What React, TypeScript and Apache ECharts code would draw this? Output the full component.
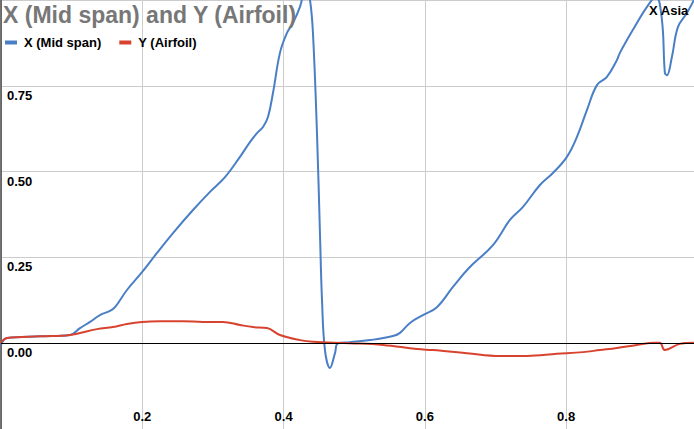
import React, { useEffect, useRef } from "react";
import * as echarts from "echarts";

const seriesNames = ["X (Mid span)", "Y (Airfoil)"];

const blueX = [0, 0.0085, 0.0552, 0.0977, 0.1118, 0.126, 0.1401, 0.1543, 0.1614, 0.1783, 0.1996, 0.2208, 0.2435, 0.2718, 0.2958, 0.3171, 0.3383, 0.3524, 0.3624, 0.3709, 0.3779, 0.385, 0.3949, 0.4048, 0.4133, 0.4232, 0.4317, 0.4374, 0.4416, 0.4473, 0.4515, 0.4544, 0.4586, 0.4657, 0.4728, 0.477, 0.494, 0.5223, 0.5549, 0.5648, 0.5789, 0.5973, 0.6171, 0.6398, 0.6624, 0.6964, 0.7204, 0.7389, 0.7629, 0.7813, 0.8011, 0.8153, 0.8294, 0.8436, 0.8577, 0.8719, 0.8761, 0.8945, 0.9144, 0.9271, 0.9356, 0.9398, 0.9427, 0.9497, 0.9582, 0.971, 0.9809];
const blueY = [-0.005, 0.015, 0.02, 0.024, 0.044, 0.062, 0.082, 0.094, 0.105, 0.155, 0.207, 0.263, 0.321, 0.388, 0.441, 0.484, 0.543, 0.586, 0.612, 0.63, 0.659, 0.729, 0.846, 0.904, 0.933, 0.98, 1.04, 1.0, 0.904, 0.612, 0.321, 0.126, -0.02, -0.072, -0.029, 0.0, 0.003, 0.009, 0.021, 0.03, 0.059, 0.082, 0.105, 0.164, 0.219, 0.286, 0.359, 0.397, 0.461, 0.496, 0.543, 0.601, 0.679, 0.752, 0.776, 0.825, 0.846, 0.913, 0.98, 1.01, 0.942, 0.787, 0.781, 0.834, 0.921, 0.962, 1.0];

const redX = [0, 0.0085, 0.0552, 0.0977, 0.1359, 0.1585, 0.1783, 0.1996, 0.2251, 0.2576, 0.2859, 0.3142, 0.3383, 0.3567, 0.3765, 0.3949, 0.4232, 0.4416, 0.494, 0.5407, 0.5888, 0.6115, 0.6596, 0.7063, 0.7445, 0.787, 0.8238, 0.8478, 0.8719, 0.9002, 0.9257, 0.9327, 0.9398, 0.9611, 0.9809];
const redY = [0.001, 0.015, 0.02, 0.024, 0.041, 0.047, 0.056, 0.062, 0.064, 0.064, 0.062, 0.062, 0.053, 0.047, 0.044, 0.024, 0.009, 0.004, 0.0, -0.005, -0.017, -0.02, -0.029, -0.037, -0.037, -0.031, -0.026, -0.02, -0.014, -0.005, 0.001, 0.001, -0.02, -0.002, 0.001];

const FONT = "'Liberation Sans', Arial, sans-serif";

export default function App() {
  const ref = useRef<HTMLDivElement>(null);
  useEffect(() => {
    if (!ref.current) return;
    const chart = echarts.init(ref.current, null, { renderer: "svg" });
    const blueData = blueX.map((x, i) => [x, blueY[i]]);
    const redData = redX.map((x, i) => [x, redY[i]]);
    chart.setOption({
      animation: false,
      backgroundColor: "#fff",
      title: {
        text: "X (Mid span) and Y (Airfoil)",
        left: 3,
        top: 3,
        padding: 0,
        textStyle: { fontFamily: FONT, fontSize: 23, fontWeight: "bold", color: "#777" },
      },
      legend: {
        left: 5,
        top: 36,
        padding: 0,
        icon: "rect",
        itemWidth: 12,
        itemHeight: 4,
        itemGap: 18,
        textStyle: { fontFamily: FONT, fontSize: 13, fontWeight: "bold", color: "#000", padding: [0, 0, 0, 2] },
        data: seriesNames,
      },
      graphic: [
        {
          type: "text",
          left: 649,
          top: 4,
          z: 100,
          style: { text: "X Asia", font: `bold 13px ${FONT}`, fill: "#000" },
        },
      ],
      grid: { left: 1, right: 0, top: 0, bottom: 0, containLabel: false, outerBoundsMode: "none" },
      xAxis: {
        type: "value",
        min: 0,
        max: 0.981,
        interval: 0.2,
        axisLine: { show: false },
        axisTick: { show: false },
        splitLine: { show: true, lineStyle: { color: "#ccc", width: 1 } },
        axisLabel: {
          inside: true,
          margin: 6,
          fontFamily: FONT,
          fontSize: 13,
          fontWeight: "bold",
          color: "#000",
          formatter: (v: number) => (v === 0 || v > 0.9 ? "" : v.toFixed(1)),
        },
      },
      yAxis: {
        type: "value",
        min: -0.25,
        max: 1.0,
        interval: 0.25,
        axisLine: { show: true, lineStyle: { color: "#444", width: 1.5 } },
        axisTick: { show: false },
        splitLine: { show: true, lineStyle: { color: "#ccc", width: 1 } },
        axisLabel: {
          inside: true,
          margin: 6,
          verticalAlign: "top",
          padding: [3, 0, 0, 0],
          fontFamily: FONT,
          fontSize: 13,
          fontWeight: "bold",
          color: "#000",
          formatter: (v: number) => (v >= 1 || v < 0 ? "" : v.toFixed(2)),
        },
      },
      series: [
        {
          name: seriesNames[0],
          type: "line",
          data: blueData,
          smooth: 0.4,
          showSymbol: false,
          clip: true,
          color: "#4a7fc6",
          lineStyle: { width: 2, color: "#4a7fc6" },
          markLine: {
            silent: true,
            symbol: "none",
            label: { show: false },
            lineStyle: { color: "#000", width: 1, type: "solid" },
            data: [{ yAxis: 0 }],
          },
        },
        {
          name: seriesNames[1],
          type: "line",
          data: redData,
          smooth: 0.4,
          showSymbol: false,
          clip: true,
          color: "#d8432f",
          lineStyle: { width: 2, color: "#d8432f" },
        },
      ],
    });
    return () => chart.dispose();
  }, []);
  return <div ref={ref} style={{ position: "fixed", left: 0, top: 0, width: 694, height: 429 }} />;
}
